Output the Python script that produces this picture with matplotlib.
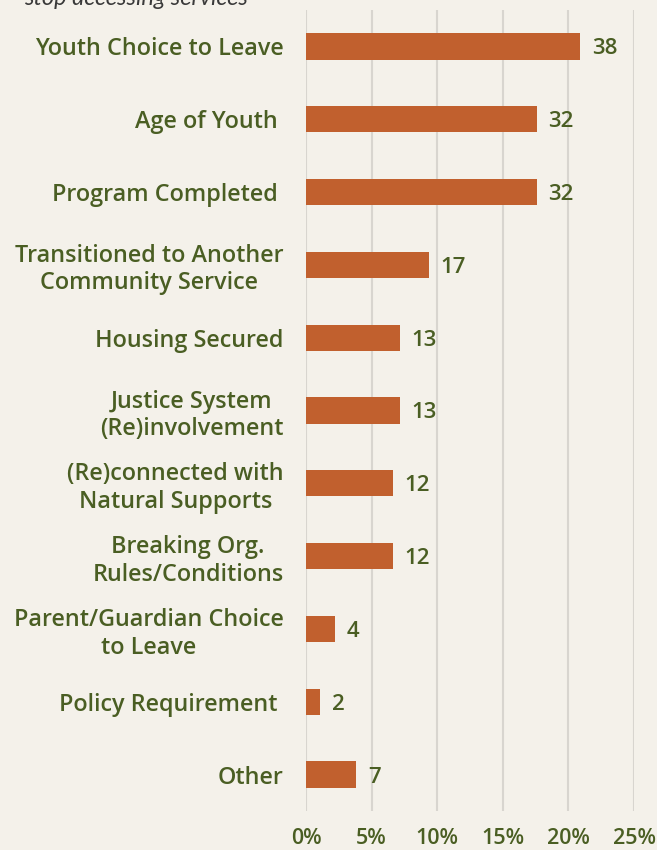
import numpy as np
import matplotlib
matplotlib.use("Agg")
import matplotlib.pyplot as plt

categories = [
    "Youth Choice to Leave",
    "Age of Youth ",
    "Program Completed ",
    "Transitioned to Another\nCommunity Service",
    "Housing Secured",
    "Justice System\n(Re)involvement",
    "(Re)connected with\nNatural Supports",
    "Breaking Org.\nRules/Conditions",
    "Parent/Guardian Choice\nto Leave",
    "Policy Requirement ",
    "Other",
]
counts = [38, 32, 32, 17, 13, 13, 12, 12, 4, 2, 7]
xticks = [0, 5, 10, 15, 20, 25]

BG = "#f4f1ea"
BAR = "#c1602e"
TXT = "#4a5e23"
GRID = "#d8d5cf"

counts = np.array(counts)
pct = counts / counts.sum() * 100

fig = plt.figure(figsize=(6.57, 8.5), dpi=100, facecolor=BG)
ax = fig.add_axes([306 / 657, 39 / 850, 328 / 657, 801 / 850], facecolor=BG)

y = np.arange(len(categories))
ax.barh(y, pct, height=0.36, color=BAR, zorder=3)
for yi, p, c in zip(y, pct, counts):
    ax.text(p + 0.9, yi, str(c), va="center_baseline", ha="left", color=TXT,
            fontsize=16, fontfamily="Open Sans", fontweight="semibold")

ax.set_ylim(len(categories) - 0.5, -0.5)
ax.set_xlim(0, 25)
ax.set_xticks(xticks)
ax.set_xticklabels([f"{t}%" for t in xticks])
ax.set_yticks(y)
ax.set_yticklabels(categories, multialignment="center")
ax.xaxis.grid(True, color=GRID, linewidth=1.5, zorder=0)
for s in ax.spines.values():
    s.set_visible(False)
ax.tick_params(axis="x", length=0, pad=12, colors=TXT, labelsize=15.5)
ax.tick_params(axis="y", length=0, pad=16, colors=TXT, labelsize=16.8)
for lab in ax.get_xticklabels() + ax.get_yticklabels():
    lab.set_fontfamily("Open Sans")
    lab.set_fontweight("semibold")

# subtitle line is cut off at the top edge in the original as well
fig.text(24 / 657, 1 - 5 / 850, "stop accessing services", ha="left", va="baseline",
         fontsize=17, fontstyle="italic", fontfamily="Lato", color="#3a3a3a")

fig.savefig("out.png", dpi=100, facecolor=BG)
